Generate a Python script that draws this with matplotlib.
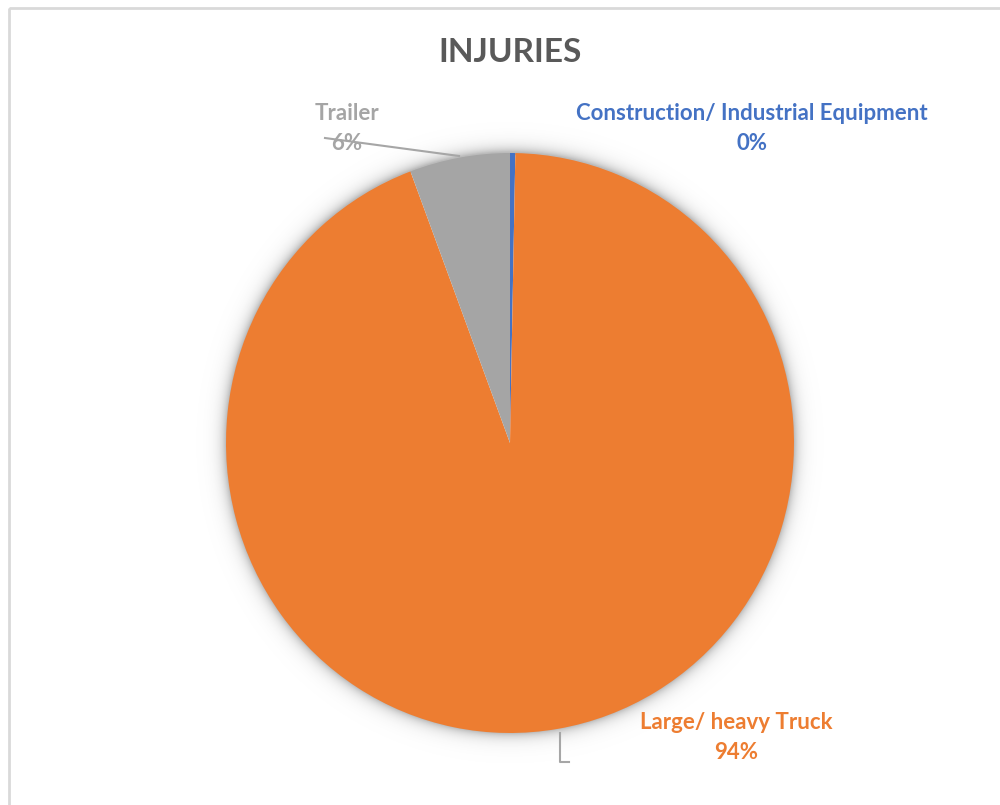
import numpy as np
import matplotlib.pyplot as plt
from matplotlib.patches import Rectangle

# Injuries by vehicle type
categories = ['Construction/ Industrial Equipment', 'Large/ heavy Truck', 'Trailer']
values = [0.3, 94.0, 5.7]
colors = ['#4472C4', '#ED7D31', '#A5A5A5']

W, H = 1000, 805
cx, cy = 510, 443      # pie centre (pixels)
rx, ry = 284, 290      # pie radii (pixels)

fig = plt.figure(figsize=(W / 100, H / 100), dpi=100)
fig.patch.set_facecolor('white')

# background layer in pixel coordinates: frame + soft shadow
bg = fig.add_axes([0, 0, 1, 1])
bg.set_xlim(0, W)
bg.set_ylim(H, 0)
bg.axis('off')

bg.add_patch(Rectangle((9, 8), W + 20, H + 20, fill=False,
                       edgecolor='#D9D9D9', linewidth=2))

yy, xx = np.mgrid[0:H, 0:W] + 0.5
d = np.sqrt(((xx - cx) / rx) ** 2 + ((yy - cy) / ry) ** 2)
dist = (d - 1) * (rx + ry) / 2
alpha = np.where(dist > -3, 0.6 * np.exp(-np.clip(dist, 0, None) / 6.0), 0)
shadow = np.zeros((H, W, 4))
shadow[..., :3] = 0.55
shadow[..., 3] = alpha
bg.imshow(shadow, extent=[0, W, H, 0], interpolation='bilinear', zorder=1)

# pie layer
pax = fig.add_axes([(cx - rx) / W, (H - cy - ry) / H, 2 * rx / W, 2 * ry / H])
pax.pie(values, colors=colors, startangle=90, counterclock=False, radius=1,
        wedgeprops=dict(linewidth=0))
pax.set_xlim(-1, 1)
pax.set_ylim(-1, 1)
pax.set_aspect('auto')
pax.axis('off')

# text layer
tx = fig.add_axes([0, 0, 1, 1])
tx.set_xlim(0, W)
tx.set_ylim(H, 0)
tx.axis('off')
tx.patch.set_alpha(0)

font = 'Lato'
tx.text(510, 52, 'INJURIES', ha='center', va='center', fontsize=24,
        fontweight='bold', color='#595959', family=font)

total = sum(values)
pct = [f'{v / total * 100:.0f}%' for v in values]
label_pos = [(752, 113), (736, 722), (347, 114)]
for name, p, c, (x, y) in zip(categories, pct, colors, label_pos):
    tx.text(x, y, name, ha='center', va='center', fontsize=16,
            fontweight='bold', color=c, family=font)
    tx.text(x, y + 30, p, ha='center', va='center', fontsize=16,
            fontweight='bold', color=c, family=font)

# leader lines
tx.plot([325, 459], [138, 156], color='#A6A6A6', linewidth=1.5, zorder=5)
tx.plot([560, 560, 569], [733, 762, 762], color='#A6A6A6', linewidth=1.5, zorder=5)

fig.savefig('out.png', dpi=100)
